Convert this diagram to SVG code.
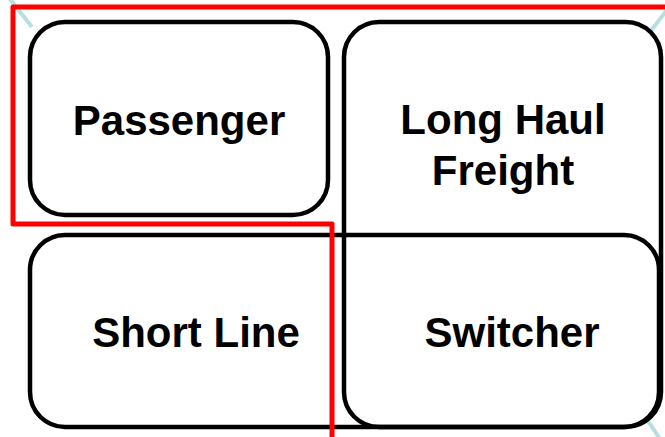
<svg xmlns="http://www.w3.org/2000/svg" width="665" height="437" viewBox="0 0 665 437">
  <style>
    .box { fill: none; stroke: #000; stroke-width: 4.5; }
    .label { font-family: "Liberation Sans", Arial, sans-serif; font-weight: bold; font-size: 42px; fill: #000; text-anchor: middle; }
    .guide { stroke: #b7dfe2; stroke-width: 4; fill: none; }
    .route { stroke: #ff0000; stroke-width: 5; fill: none; stroke-linejoin: round; }
  </style>
  <rect width="665" height="437" fill="#fff"/>

  <!-- faint guide strokes at the corners -->
  <g id="guides">
    <line class="guide" x1="9" y1="-2" x2="32" y2="27"/>
    <line class="guide" x1="667" y1="10" x2="650" y2="32"/>
    <line class="guide" x1="648" y1="421" x2="660" y2="439"/>
  </g>

  <g id="long-haul-freight">
    <rect class="box" x="344" y="22" width="317" height="405" rx="35" ry="35"/>
    <text class="label" x="503" y="134">Long Haul</text>
    <text class="label" x="503" y="185">Freight</text>
  </g>

  <g id="short-line">
    <rect class="box" x="30" y="235" width="629" height="192" rx="35" ry="35"/>
    <text class="label" x="196" y="347">Short Line</text>
  </g>

  <g id="switcher">
    <text class="label" x="512" y="347">Switcher</text>
  </g>

  <g id="passenger">
    <rect class="box" x="30" y="22" width="298" height="193" rx="35" ry="35"/>
    <text class="label" x="179" y="135">Passenger</text>
  </g>

  <g id="connectors">
    <path class="route" d="M 667 7 H 13 V 224 H 332 V 440"/>
  </g>
</svg>
